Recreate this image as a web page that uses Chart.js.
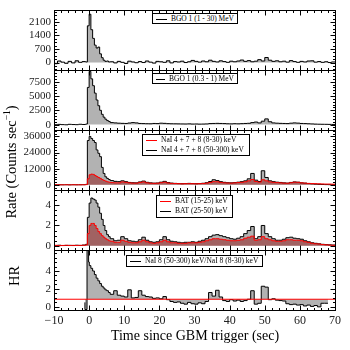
<!DOCTYPE html>
<html>
<head>
<meta charset="utf-8">
<script src="https://cdn.jsdelivr.net/npm/chart.js@4.4.1/dist/chart.umd.min.js"></script>
<style>
  body { margin: 0; background: #fff; }
  #wrap { position: relative; width: 350px; height: 350px; font-family: "Liberation Serif", serif; color: #000; }
  #wrap canvas { position: absolute; left: 0; top: 0; }
  .lg { position: absolute; box-sizing: border-box; border: 1px solid #000; background: #fff;
        font-size: 7.5px; line-height: 10px; padding: 0 3px; }
  .row { display: flex; align-items: center; white-space: nowrap; height: 10px; }
  .sw { display: inline-block; width: 11px; height: 0; border-top: 1.5px solid #000; margin-right: 4px; }
  .sw.red { border-top-color: #f00; }
  .ttl { position: absolute; white-space: nowrap; font-size: 14px; }
  .rot { transform: translate(-50%, -50%) rotate(-90deg); }
</style>
</head>
<body>
<div id="wrap">
  <canvas id="c" width="350" height="350"></canvas>
  <div class="lg" style="left:152px;top:13px;width:86px;height:11px"><div class="row"><span class="sw"></span>BGO 1 (1 - 30) MeV</div></div>
  <div class="lg" style="left:152px;top:73px;width:86px;height:11px"><div class="row"><span class="sw"></span>BGO 1 (0.3 - 1) MeV</div></div>
  <div class="lg" style="left:142px;top:134px;width:108px;height:22px">
    <div class="row"><span class="sw red"></span>NaI 4 + 7 + 8 (8-30) keV</div>
    <div class="row"><span class="sw"></span>NaI 4 + 7 + 8 (50-300) keV</div>
  </div>
  <div class="lg" style="left:156px;top:195px;width:77px;height:23px">
    <div class="row"><span class="sw red"></span>BAT (15-25) keV</div>
    <div class="row"><span class="sw"></span>BAT (25-50) keV</div>
  </div>
  <div class="lg" style="left:126px;top:255px;width:137px;height:12px"><div class="row"><span class="sw"></span>NaI 8 (50-300) keV/NaI 8 (8-30) keV</div></div>
  <div class="ttl rot" style="left:11px;top:162px;font-size:14.5px">Rate (Counts sec<sup style="font-size:9.5px">&minus;1</sup>)</div>
  <div class="ttl rot" style="left:14px;top:276px;font-size:14.5px">HR</div>
  <div class="ttl" style="left:195px;top:336px;transform:translate(-50%,-50%)">Time since GBM trigger (sec)</div>
</div>
<script>
// bin start times (s since trigger), shared by the four rate panels
const time = [-10, -9, -8, -7, -6, -5, -4, -3, -2, -1, -0.5,
  0, 0.5, 1, 1.5, 2, 2.5, 3, 3.5, 4, 4.5, 5, 5.5, 6,
  7, 8, 9, 10, 11, 12, 13, 14, 15, 16, 17, 18, 19, 20, 21, 22, 23, 24, 25, 26,
  27, 28, 29, 30, 31, 32, 33, 34, 35, 36, 37, 38, 39, 40, 41, 42, 43, 44, 45, 46,
  47, 48, 49, 50, 51, 52, 53, 54, 55, 56, 57, 58, 59, 60, 61, 62, 63, 64, 65, 66,
  67, 68, 69, 70];

const bgoHigh = [40, -60, 80, 20, -40, 60, -20, 90, 10, 50, 30,
  1900, 2500, 1700, 1250, 900, 750, 800, 450, 250, 120, 60, 80, 30,
  40, -20, 60, 10, -50, 70, 30, -10, 50, 0,
  80, 20, -30, 60, 40, 10, 90, -20, 50, 30,
  70, 0, 40, 110, 60, 20, 80, 40, 120, 60,
  30, 90, 50, 10, 70, 40, 80, 130, 60, 100,
  40, 70, 150, 80, 260, 120, 60, 90, 40, 70,
  20, 100, 50, 10, 60, 30, 80, 90, 20, 50,
  10, 40, 0, 30];

const bgoLow = [30, -20, 40, 0, -30, 50, 10, -10, 60, 20, 100,
  6500, 9300, 8000, 6800, 5500, 4300, 3300, 2500, 1800, 1300, 950, 700, 550,
  350, 300, 250, 220, 200, 280, 350, 300, 200, 180,
  160, 150, 200, 180, 250, 220, 170, 150, 140, 130,
  120, 110, 130, 100, 110, 90, 100, 120, 180, 200,
  220, 200, 180, 150, 130, 160, 140, 170, 200, 230,
  350, 450, 300, 600, 1000, 500, 300, 250, 220, 200,
  180, 250, 300, 260, 200, 180, 150, 120, 90, 70,
  60, 50, 40, 30];

const naiHard = [100, 50, 80, 60, 120, 40, 90, 70, 100, 150, 400,
  33000, 36000, 34500, 33000, 31500, 26000, 23500, 21000, 13000, 8500, 6000, 4800, 4000,
  3200, 2600, 2400, 3000, 2400, 1800, 1600, 1500, 2200, 2800,
  1900, 1500, 1300, 1400, 2000, 2600, 1700, 1300, 1100, 1000,
  900, 1000, 1100, 1000, 900, 1000, 1200, 1600, 2500, 3800,
  3200, 2400, 1900, 1600, 1500, 1700, 2000, 2400, 3000, 4500,
  8500, 3500, 2500, 10500, 5500, 3000, 2400, 2000, 1800, 1500,
  1300, 1800, 2200, 2000, 1500, 1300, 1000, 800, 600, 400,
  300, 200, 150, 100];

const naiSoft = [50, 80, 40, 60, 70, 30, 90, 50, 60, 80, 200,
  4500, 7500, 8000, 7800, 7000, 6200, 5500, 4800, 4000, 3300, 2800, 2300, 2000,
  1700, 1500, 1500, 2200, 1900, 1500, 1300, 1300, 1800, 2200,
  1500, 1200, 1100, 1200, 1600, 2000, 1400, 1100, 1000, 900,
  800, 900, 900, 900, 800, 900, 1000, 1300, 1800, 2400,
  2300, 1800, 1500, 1400, 1300, 1500, 1700, 1900, 2300, 3000,
  4000, 2500, 2000, 3800, 3000, 2200, 1900, 1700, 1500, 1300,
  1200, 1600, 2000, 1900, 1500, 1300, 1100, 1000, 900, 800,
  700, 600, 600, 500];

const batHard = [0.05, 0.02, 0.06, 0.03, 0.04, 0.05, 0.03, 0.06, 0.04, 0.08, 0.15,
  2.8, 4.2, 4.7, 4.6, 4.5, 4.2, 3.8, 3.2, 2.6, 2.0, 1.5, 1.1, 0.9,
  0.7, 0.5, 0.55, 0.9, 0.7, 0.5, 0.45, 0.4, 0.6, 0.85,
  0.55, 0.4, 0.35, 0.4, 0.6, 0.9, 0.6, 0.45, 0.4, 0.35,
  0.3, 0.35, 0.35, 0.4, 0.35, 0.45, 0.55, 0.7, 0.9, 1.05,
  1.1, 1.0, 0.9, 0.8, 0.7, 0.65, 0.75, 0.9, 1.2, 1.5,
  1.9, 0.7, 0.9, 2.0, 1.2, 0.9, 0.7, 0.55, 0.55, 0.65,
  0.8, 0.85, 0.75, 0.7, 0.65, 0.5, 0.4, 0.3, 0.25, 0.2,
  0.15, 0.12, 0.1, 0.08];

const batSoft = [0.03, 0.05, 0.02, 0.04, 0.06, 0.03, 0.05, 0.04, 0.05, 0.06, 0.1,
  1.2, 2.0, 2.2, 2.2, 2.0, 1.7, 1.4, 1.2, 1.0, 0.85, 0.7, 0.6, 0.5,
  0.45, 0.35, 0.35, 0.55, 0.45, 0.35, 0.3, 0.3, 0.4, 0.55,
  0.4, 0.3, 0.25, 0.3, 0.4, 0.55, 0.4, 0.3, 0.3, 0.25,
  0.25, 0.25, 0.3, 0.3, 0.3, 0.35, 0.4, 0.5, 0.6, 0.7,
  0.7, 0.65, 0.6, 0.55, 0.5, 0.5, 0.55, 0.6, 0.75, 0.85,
  0.95, 0.55, 0.6, 0.9, 0.7, 0.6, 0.5, 0.45, 0.45, 0.5,
  0.6, 0.6, 0.55, 0.55, 0.5, 0.4, 0.35, 0.25, 0.2, 0.18,
  0.13, 0.1, 0.08, 0.06];

// hardness ratio NaI 8 (50-300)/(8-30), own binning
const hrTime = [-1.2, -0.6, -0.15, 0.05, 0.5, 1, 1.5, 2, 2.5, 3, 3.5, 4, 4.5, 5, 5.5, 6,
  7, 8, 9, 10, 11, 12, 13, 14, 15, 16, 17, 18, 19, 20, 21, 22, 23, 24, 25, 26,
  27, 28, 29, 30, 31, 32, 33, 34, 35, 36, 37, 38, 39, 40, 41, 42, 43, 44, 45, 46,
  47, 48, 49, 50, 51, 52, 53, 54, 55, 56, 57, 58, 59, 60, 61, 62, 63, 64, 65, 66,
  67, 68];
const hr = [0.5, -0.3, 9, 5.0, 4.6, 4.3, 4.0, 3.6, 3.2, 2.9, 2.6, 2.3, 2.1, 1.9, 1.8, 1.6,
  1.4, 1.8, 1.3, 1.2, 1.1, 1.9, 1.0, 1.05, 1.8, 1.3,
  1.15, 1.1, 0.95, 1.0, 0.9, 1.15, 0.8, 0.6, 0.5, 0.55,
  0.4, 0.3, 0.5, 0.35, 0.3, 0.45, 0.35, 0.6, 1.6, 1.2,
  1.85, 1.1, 0.7, 0.6, 0.8, 0.65, 0.75, 0.6, 0.7, 0.85,
  1.8, 0.3, 0.4, 2.3, 2.2, 0.8, 0.9, 0.75, 0.7, 0.65,
  0.35, 0.25, 0.3, 0.2, 0.25, 0.1, 0.2, 0.05, 0.15, 0.0,
  0.4, 0.4];
const hrRefTime = [-10, 70];
const hrRef = [0.85, 0.85];

const xTicks = [-10, 0, 10, 20, 30, 40, 50, 60, 70];

// panels bottom -> top (first stacked axis is drawn lowest)
const panels = [
  { id: 'yHR',  min: -0.35, max: 6.35,  major: [0, 2, 4],                minor: 0.5 },
  { id: 'yBAT', min: -0.4,  max: 5.5,   major: [0, 2, 4],                minor: 0.5 },
  { id: 'yNaI', min: -3700, max: 41000, major: [0, 12000, 24000, 36000], minor: 2000 },
  { id: 'yBGL', min: -900,  max: 9600,  major: [0, 2500, 5000, 7500],    minor: 500 },
  { id: 'yBGH', min: -370,  max: 2740,  major: [0, 700, 1400, 2100],     minor: 175 },
];

const GREY = '#b2b2b2';
const REDFILL = 'rgba(139,0,0,0.45)';

function pts(xs, ys) { return xs.map(function (x, i) { return { x: x, y: ys[i] }; }); }

function series(data, yAxisID, color, fill, bg) {
  return { data: data, yAxisID: yAxisID, borderColor: color, backgroundColor: bg,
           fill: fill, borderWidth: 1, stepped: 'after', pointRadius: 0 };
}

const yScales = {};
panels.forEach(function (p) {
  yScales[p.id] = {
    type: 'linear', position: 'left', stack: 'panels', stackWeight: 1,
    min: p.min, max: p.max,
    grid: { display: false, drawTicks: false }, border: { display: false },
    ticks: { color: '#222', padding: 3, font: { size: 11 }, autoSkip: false,
             callback: function (v) { return String(v); } },
    afterBuildTicks: function (ax) { ax.ticks = p.major.map(function (v) { return { value: v }; }); },
    afterFit: function (ax) { ax.width = 54; },
  };
});

// keep every dataset (and its fill) inside its own panel
const panelClip = {
  id: 'panelClip',
  beforeDatasetDraw: function (chart, args) {
    const ys = chart.scales[args.meta.yAxisID], xs = chart.scales.x;
    const ctx = chart.ctx;
    ctx.save();
    ctx.beginPath();
    ctx.rect(xs.left, ys.top, xs.right - xs.left, ys.bottom - ys.top);
    ctx.clip();
  },
  afterDatasetDraw: function (chart) { chart.ctx.restore(); },
};

// frames + inward ticks on all four sides of each panel
const frameTicks = {
  id: 'frameTicks',
  afterDatasetsDraw: function (chart) {
    const ctx = chart.ctx, xs = chart.scales.x;
    const l = Math.round(xs.left) + 0.5, r = Math.round(xs.right) + 0.5;
    ctx.save();
    ctx.strokeStyle = '#000';
    ctx.lineWidth = 1;
    panels.forEach(function (p) {
      const ys = chart.scales[p.id];
      const t = Math.round(ys.top) + 0.5, b = Math.round(ys.bottom) + 0.5;
      ctx.strokeRect(l, t, r - l, b - t);
      ctx.beginPath();
      for (let v = -10; v <= 70; v += 2) {
        const px = Math.round(xs.getPixelForValue(v)) + 0.5;
        const len = v % 10 === 0 ? 5 : 2.5;
        ctx.moveTo(px, t); ctx.lineTo(px, t + len);
        ctx.moveTo(px, b); ctx.lineTo(px, b - len);
      }
      const start = Math.ceil(p.min / p.minor) * p.minor;
      for (let v = start; v <= p.max; v += p.minor) {
        const py = Math.round(ys.getPixelForValue(v)) + 0.5;
        const len = p.major.indexOf(Math.round(v * 1000) / 1000) >= 0 ? 5 : 2.5;
        ctx.moveTo(l, py); ctx.lineTo(l + len, py);
        ctx.moveTo(r, py); ctx.lineTo(r - len, py);
      }
      ctx.stroke();
    });
    ctx.restore();
  },
};

// register the clip before the filler so fills are clipped too
const filler = Chart.registry.getPlugin('filler');
Chart.unregister(filler);
Chart.register(panelClip);
Chart.register(filler);

Chart.defaults.font.family = '"Liberation Serif", serif';

new Chart(document.getElementById('c'), {
  type: 'line',
  data: {
    datasets: [
      series(pts(hrRefTime, hrRef), 'yHR', '#f00', false, '#f00'),
      series(pts(hrTime, hr), 'yHR', '#000', { value: 0.85 }, GREY),
      series(pts(time, batSoft), 'yBAT', '#f00', 'origin', REDFILL),
      series(pts(time, batHard), 'yBAT', '#000', 'origin', GREY),
      series(pts(time, naiSoft), 'yNaI', '#f00', 'origin', REDFILL),
      series(pts(time, naiHard), 'yNaI', '#000', 'origin', GREY),
      series(pts(time, bgoLow), 'yBGL', '#000', 'origin', GREY),
      series(pts(time, bgoHigh), 'yBGH', '#000', 'origin', GREY),
    ],
  },
  options: {
    responsive: false,
    animation: false,
    layout: { padding: { top: 9, right: 15, left: 0, bottom: 0 } },
    plugins: { legend: { display: false }, tooltip: { enabled: false } },
    scales: Object.assign({
      x: {
        type: 'linear', min: -10, max: 70,
        grid: { display: false, drawTicks: false }, border: { display: false },
        ticks: { color: '#222', padding: 4, font: { size: 12 }, maxRotation: 0, autoSkip: false,
                 callback: function (v) { return v < 0 ? '\u2212' + (-v) : String(v); } },
        afterBuildTicks: function (ax) { ax.ticks = xTicks.map(function (v) { return { value: v }; }); },
        afterFit: function (ax) { ax.height = 40; },
      },
    }, yScales),
  },
  plugins: [frameTicks],
});
</script>
</body>
</html>
